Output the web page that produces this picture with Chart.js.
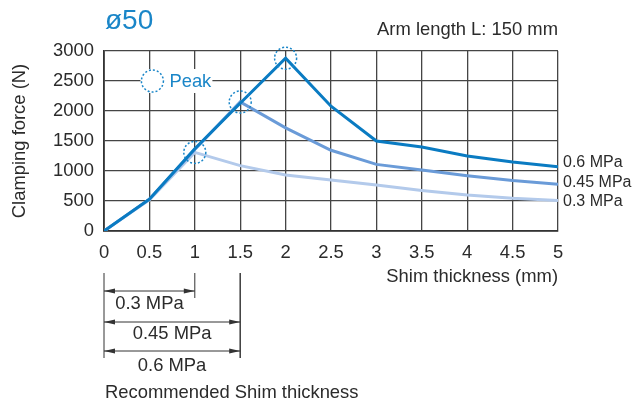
<!DOCTYPE html>
<html>
<head>
<meta charset="utf-8">
<script src="https://cdn.jsdelivr.net/npm/chart.js@4.4.1/dist/chart.umd.min.js"></script>
<style>
  html, body { margin: 0; padding: 0; background: #fff; }
</style>
</head>
<body>
<canvas id="forceChart" width="641" height="403"></canvas>
<script>
// shim thickness (mm) and clamping force (N)
const shimThickness = [0, 0.5, 1, 1.5, 2, 2.5, 3, 3.5, 4, 4.5, 5];
const force06 = [0, 530, 1370, 2130, 2880, 2080, 1500, 1400, 1250, 1150, 1070];
const force045 = [0, 530, 1360, 2150, 1720, 1345, 1110, 1015, 920, 840, 780];
const force03 = [0, 520, 1310, 1090, 935, 850, 765, 675, 600, 545, 510];
const seriesLabels = ['0.6 MPa', '0.45 MPa', '0.3 MPa'];
const seriesColors = ['#0a7bc2', '#6a9bd8', '#b3caeb'];

// recommended shim thickness ranges (mm)
const recommendedLabels = ['0.3 MPa', '0.45 MPa', '0.6 MPa'];
const recommendedMax = [1, 1.5, 1.5];

const FONT = "'Liberation Sans', Arial, sans-serif";
const TEXT = '#2b2b2b';
const PEAK = '#1a86c8';

function points(values) {
    return shimThickness.map((x, i) => ({ x: x, y: values[i] }));
}

function drawArrowHead(ctx, x, y, dir) {
    ctx.beginPath();
    ctx.moveTo(x, y);
    ctx.lineTo(x - dir * 11, y - 2.5);
    ctx.lineTo(x - dir * 11, y + 2.5);
    ctx.closePath();
    ctx.fill();
}

const extras = {
    id: 'extras',
    afterDatasetsDraw(chart) {
        const { ctx, chartArea, scales } = chart;
        const xs = scales.x, ys = scales.y;
        ctx.save();

        // dotted circles on each peak
        ctx.strokeStyle = PEAK;
        ctx.lineWidth = 1.5;
        ctx.setLineDash([2, 2]);
        chart.data.datasets.forEach((ds, i) => {
            let k = 0;
            ds.data.forEach((p, j) => { if (p.y > ds.data[k].y) k = j; });
            const pt = chart.getDatasetMeta(i).data[k];
            ctx.beginPath();
            ctx.arc(pt.x, pt.y, 11, 0, Math.PI * 2);
            ctx.stroke();
        });

        // "Peak" key
        const kx = xs.getPixelForValue(0.5) + 3, ky = ys.getPixelForValue(2500);
        ctx.setLineDash([]);
        ctx.fillStyle = '#fff';
        ctx.fillRect(kx - 12, ky - 12, 72, 24);
        ctx.setLineDash([2, 2]);
        ctx.beginPath();
        ctx.arc(kx, ky, 11, 0, Math.PI * 2);
        ctx.stroke();
        ctx.setLineDash([]);
        ctx.fillStyle = PEAK;
        ctx.font = '18.4px ' + FONT;
        ctx.textAlign = 'left';
        ctx.textBaseline = 'middle';
        ctx.fillText('Peak', kx + 17, ky + 1);

        // series labels at the line ends
        const nudge = [-4, -2, 1];
        ctx.fillStyle = TEXT;
        ctx.font = '16px ' + FONT;
        chart.data.datasets.forEach((ds, i) => {
            const meta = chart.getDatasetMeta(i);
            const last = meta.data[meta.data.length - 1];
            ctx.fillText(ds.label, chartArea.right + 5, last.y + nudge[i]);
        });

        // titles
        ctx.fillStyle = PEAK;
        ctx.font = '28px ' + FONT;
        ctx.fillText('ø50', chartArea.left + 1, 21);
        ctx.fillStyle = TEXT;
        ctx.font = '18.4px ' + FONT;
        ctx.textAlign = 'right';
        ctx.fillText('Arm length L: 150 mm', chartArea.right, 30);

        // recommended shim thickness dimension lines
        const x0 = xs.getPixelForValue(0);
        const top = 273;
        const rowY = [291, 322, 351];
        const labelY = [304, 334, 366];
        ctx.strokeStyle = '#333';
        ctx.fillStyle = '#333';
        ctx.lineWidth = 1;
        ctx.beginPath();
        ctx.moveTo(x0, top);
        ctx.lineTo(x0, rowY[rowY.length - 1] + 7);
        ctx.stroke();
        recommendedMax.forEach((m, i) => {
            const xm = xs.getPixelForValue(m);
            let lastRow = i;
            recommendedMax.forEach((mm, j) => { if (mm === m) lastRow = j; });
            ctx.beginPath();
            ctx.moveTo(xm, top);
            ctx.lineTo(xm, rowY[lastRow] + 7);
            ctx.stroke();
            ctx.beginPath();
            ctx.moveTo(x0, rowY[i]);
            ctx.lineTo(xm, rowY[i]);
            ctx.stroke();
            drawArrowHead(ctx, x0, rowY[i], -1);
            drawArrowHead(ctx, xm, rowY[i], 1);
        });
        ctx.fillStyle = TEXT;
        ctx.font = '18.4px ' + FONT;
        ctx.textAlign = 'center';
        recommendedLabels.forEach((lab, i) => {
            const xm = xs.getPixelForValue(recommendedMax[i]);
            ctx.fillText(lab, (x0 + xm) / 2, labelY[i]);
        });
        ctx.textAlign = 'left';
        ctx.fillText('Recommended Shim thickness', x0 + 1, 393);

        ctx.restore();
    }
};

Chart.defaults.font.family = FONT;
Chart.defaults.font.size = 18.4;
Chart.defaults.color = TEXT;

const ctx = document.getElementById('forceChart').getContext('2d');
new Chart(ctx, {
    type: 'line',
    data: {
        datasets: [
            { label: seriesLabels[0], data: points(force06), borderColor: seriesColors[0] },
            { label: seriesLabels[1], data: points(force045), borderColor: seriesColors[1] },
            { label: seriesLabels[2], data: points(force03), borderColor: seriesColors[2] }
        ]
    },
    options: {
        responsive: false,
        animation: false,
        devicePixelRatio: 1,
        layout: { padding: { top: 51, right: 83, left: 0, bottom: 0 } },
        elements: {
            line: { borderWidth: 3, tension: 0, fill: false },
            point: { radius: 0, hoverRadius: 0 }
        },
        plugins: {
            legend: { display: false },
            tooltip: { enabled: false }
        },
        scales: {
            x: {
                type: 'linear',
                min: 0,
                max: 5,
                afterFit: function(scale) { scale.height = 172; },
                ticks: { stepSize: 0.5, padding: 11, maxRotation: 0, autoSkip: false,
                         callback: function(v) { return String(v); } },
                grid: { color: '#454545', lineWidth: 1.3, drawTicks: false },
                border: { color: '#333', width: 1.8 },
                title: { display: true, text: 'Shim thickness (mm)', align: 'end',
                         padding: { top: 0, bottom: 115 } }
            },
            y: {
                min: 0,
                max: 3000,
                afterFit: function(scale) { scale.width = 104; },
                ticks: { stepSize: 500, padding: 10,
                         callback: function(v) { return String(v); } },
                grid: { color: '#454545', lineWidth: 1.3, drawTicks: false },
                border: { color: '#333', width: 1.8 },
                title: { display: true, text: 'Clamping force (N)', padding: { top: 9, bottom: 0 } }
            }
        }
    },
    plugins: [extras]
});
</script>
</body>
</html>
